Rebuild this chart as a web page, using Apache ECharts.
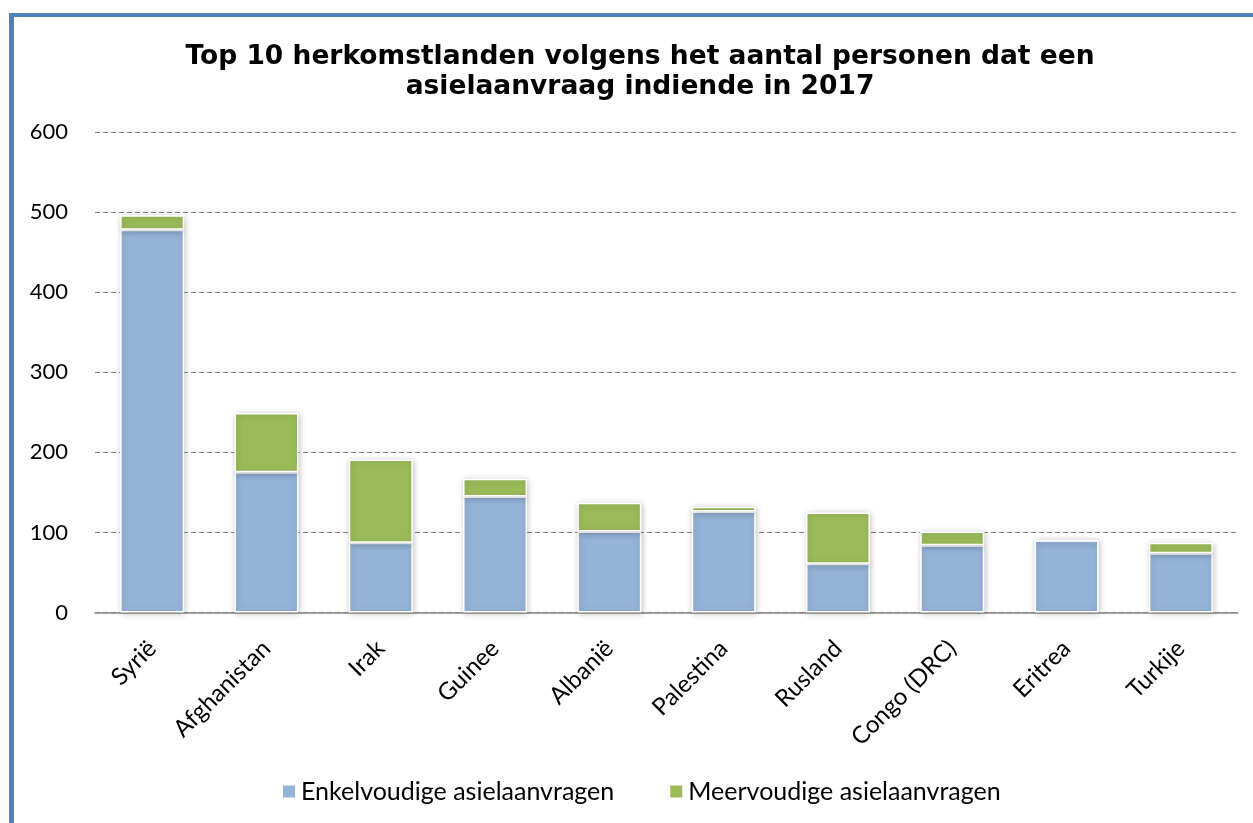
<!DOCTYPE html>
<html>
<head>
<meta charset="utf-8">
<script src="https://cdn.jsdelivr.net/npm/echarts@6/dist/echarts.min.js"></script>
<style>
html,body{margin:0;padding:0;background:#fff;}
#chart{width:1253px;height:823px;}
</style>
</head>
<body>
<div id="chart"></div>
<script>
const titleText = 'Top 10 herkomstlanden volgens het aantal personen dat een\nasielaanvraag indiende in 2017';
const categories = ['Syrië','Afghanistan','Irak','Guinee','Albanië','Palestina','Rusland','Congo (DRC)','Eritrea','Turkije'];
const seriesNames = ['Enkelvoudige asielaanvragen','Meervoudige asielaanvragen'];
const enkelvoudig = [478, 175, 87, 145, 101, 126, 61, 84, 90, 74];
const meervoudig = [18, 74, 104, 22, 36, 6, 64, 17, 0, 13];
const yTicks = [0, 100, 200, 300, 400, 500, 600];

const chart = echarts.init(document.getElementById('chart'));
const labelFont = 'Lato, "Open Sans", sans-serif';
const barStyle = (color) => ({
  color: color,
  borderColor: '#ffffff',
  borderWidth: 1.5,
  shadowBlur: 6,
  shadowColor: 'rgba(0,0,0,0.22)',
  shadowOffsetX: 1,
  shadowOffsetY: 1
});
chart.setOption({
  backgroundColor: '#ffffff',
  animation: false,
  graphic: [
    {type:'rect', shape:{x:9,y:13,width:1244,height:4}, style:{fill:'#4F81BD'}, silent:true},
    {type:'rect', shape:{x:9,y:13,width:5,height:810}, style:{fill:'#4F81BD'}, silent:true}
  ],
  title: {
    text: titleText,
    left: 640,
    textAlign: 'center',
    top: 42,
    padding: 0,
    textStyle: {
      fontFamily: '"DejaVu Sans", Verdana, sans-serif',
      fontWeight: 'bold',
      fontSize: 26.5,
      lineHeight: 30,
      color: '#000'
    }
  },
  legend: {
    data: seriesNames,
    bottom: 19,
    left: 281,
    padding: 0,
    itemWidth: 14,
    itemHeight: 14,
    itemGap: 54,
    icon: 'rect',
    textStyle: {fontFamily: labelFont, fontSize: 25, color: '#000'}
  },
  grid: {left: 95, right: 15, top: 132, bottom: 210.5, containLabel: false},
  xAxis: {
    type: 'category',
    data: categories,
    axisLine: {show: true, lineStyle: {color: '#868686', width: 1.5}},
    axisTick: {show: false},
    axisLabel: {
      rotate: 45,
      margin: 32,
      interval: 0,
      fontFamily: labelFont,
      fontSize: 24,
      color: '#000'
    }
  },
  yAxis: {
    type: 'value',
    min: 0,
    max: 600,
    interval: 100,
    axisLine: {show: false},
    axisTick: {show: false},
    axisLabel: {
      margin: 27,
      fontFamily: labelFont,
      fontSize: 22,
      color: '#000',
      formatter: (v) => yTicks.includes(v) ? String(v) : ''
    },
    splitLine: {show: true, lineStyle: {color: '#868686', type: [5, 3], width: 1}}
  },
  series: [
    {
      name: seriesNames[0],
      type: 'bar',
      stack: 'total',
      barWidth: '56%',
      data: enkelvoudig,
      itemStyle: barStyle('#95B3D7')
    },
    {
      name: seriesNames[1],
      type: 'bar',
      stack: 'total',
      barWidth: '56%',
      data: meervoudig,
      itemStyle: barStyle('#9BBB59')
    }
  ]
});
</script>
</body>
</html>
